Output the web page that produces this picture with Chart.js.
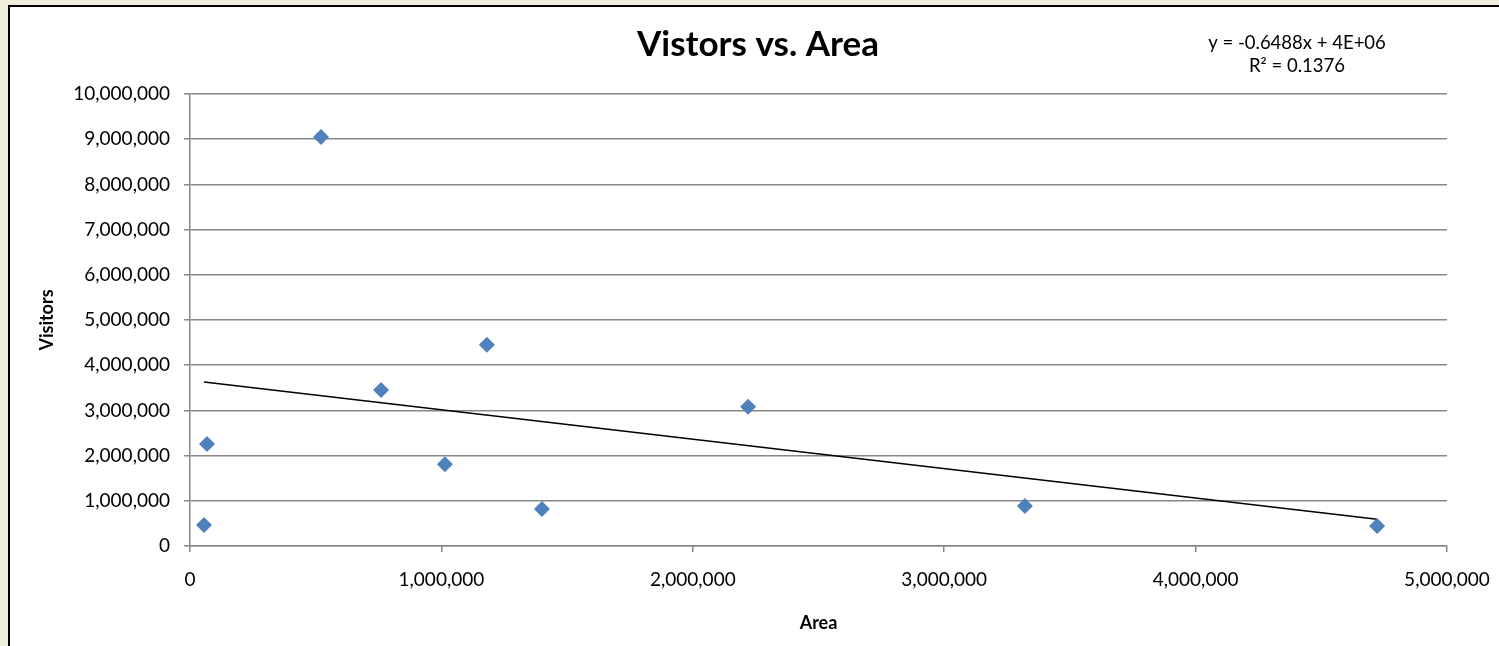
<!DOCTYPE html>
<html>
<head>
<meta charset="utf-8">
<script src="https://cdn.jsdelivr.net/npm/chart.js@4"></script>
<style>
  html, body { margin: 0; padding: 0; background: #efeddc; overflow: hidden; }
  #frame {
    position: absolute; left: 8px; top: 5px; width: 1600px; height: 700px;
    background: #fff; border: 2px solid #000;
  }
  #myChart { position: absolute; left: 0; top: 0; }
</style>
</head>
<body>
<div id="frame"></div>
<canvas id="myChart" width="1499" height="646"></canvas>
<script>
// area (x) and visitors (y) for each site
var area = [55700, 67600, 521000, 760000, 1014000, 1181000, 1400000, 2220000, 3321000, 4722000];
var visitors = [465000, 2257000, 9050000, 3450000, 1810000, 4450000, 820000, 3080000, 885000, 440000];
var trendText = ['y = -0.6488x + 4E+06', 'R\u00b2 = 0.1376'];

var points = area.map(function (a, i) { return { x: a, y: visitors[i] }; });

// linear least-squares trendline through the data
var n = area.length, mx = 0, my = 0;
for (var i = 0; i < n; i++) { mx += area[i] / n; my += visitors[i] / n; }
var sxy = 0, sxx = 0;
for (var i = 0; i < n; i++) { sxy += (area[i] - mx) * (visitors[i] - my); sxx += (area[i] - mx) * (area[i] - mx); }
var slope = sxy / sxx, icpt = my - slope * mx;
var xmin = Math.min.apply(null, area), xmax = Math.max.apply(null, area);
var trend = [{ x: xmin, y: icpt + slope * xmin }, { x: xmax, y: icpt + slope * xmax }];

var fmt = function (v) { return v.toLocaleString('en-US'); };

var trendLabel = {
  id: 'trendLabel',
  afterDraw: function (chart) {
    var c = chart.ctx;
    c.save();
    c.fillStyle = '#000';
    c.font = '18.5px Lato';
    c.textAlign = 'center';
    c.textBaseline = 'middle';
    c.fillText(trendText[0], 1297, 43);
    c.fillText(trendText[1], 1297, 66);
    c.restore();
  }
};

var ctx = document.getElementById('myChart').getContext('2d');
var myChart = new Chart(ctx, {
  type: 'scatter',
  data: {
    datasets: [{
      label: 'Visitors',
      data: points,
      pointStyle: 'rectRot',
      pointRadius: 8,
      pointHoverRadius: 8,
      backgroundColor: '#4f81bd',
      borderColor: '#4f81bd',
      borderWidth: 0
    },
    {
      label: 'Trend',
      type: 'line',
      data: trend,
      borderColor: '#000',
      borderWidth: 1.5,
      pointRadius: 0,
      fill: false
    }]
  },
  options: {
    responsive: false,
    animation: false,
    layout: { padding: { left: 69, right: 52, top: 0, bottom: 0 } },
    plugins: {
      legend: { display: false },
      tooltip: { enabled: false },
      title: {
        display: true,
        text: 'Vistors vs. Area',
        color: '#000',
        font: { family: 'Lato', size: 35, weight: 'bold' },
        padding: { top: 24, bottom: 28 }
      }
    },
    scales: {
      x: {
        type: 'linear',
        min: 0,
        max: 5000000,
        afterFit: function (s) { s.height = 100; s.paddingRight = 0; },
        grid: { drawOnChartArea: false, color: '#878787', tickLength: 6, lineWidth: 1.5 },
        border: { color: '#878787', width: 1.5 },
        ticks: { stepSize: 1000000, color: '#000', padding: 16, font: { family: 'Lato', size: 19 }, callback: fmt, maxRotation: 0 },
        title: { display: true, text: 'Area', color: '#000', font: { family: 'Lato', size: 18, weight: 'bold' }, padding: { top: 0, bottom: 12 } }
      },
      y: {
        min: 0,
        max: 10000000,
        afterFit: function (s) { s.width = 121; },
        grid: { color: '#878787', tickLength: 6, lineWidth: 1.5 },
        border: { color: '#878787', width: 1.5 },
        ticks: { stepSize: 1000000, color: '#000', padding: 14, font: { family: 'Lato', size: 19 }, callback: fmt },
        title: { display: true, text: 'Visitors', color: '#000', font: { family: 'Lato', size: 18, weight: 'bold' }, padding: { top: -33, bottom: 0 } }
      }
    }
  },
  plugins: [trendLabel]
});
</script>
</body>
</html>
